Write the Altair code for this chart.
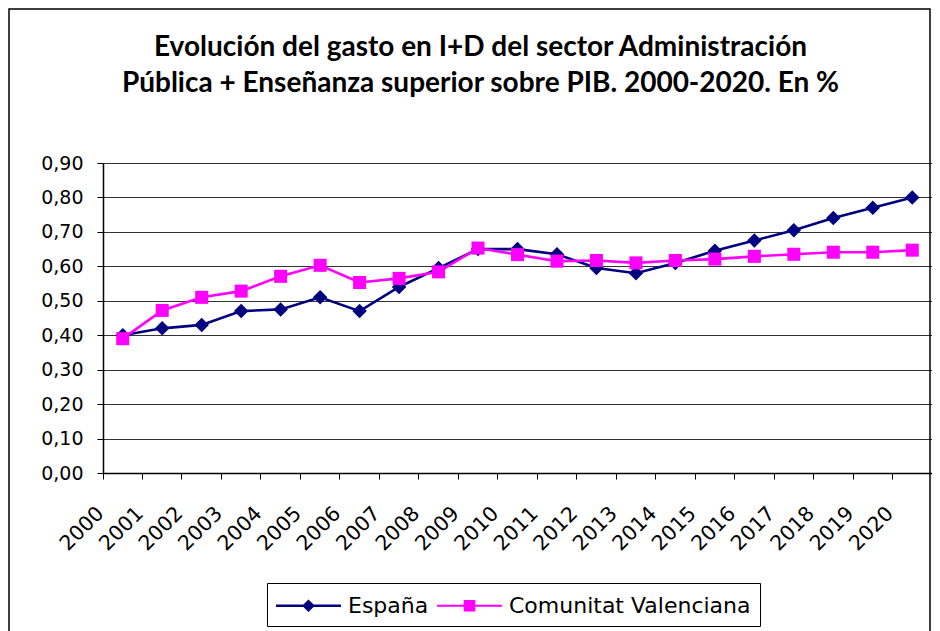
import altair as alt
import pandas as pd

# ---- data ----
years = [str(y) for y in range(2000, 2021)]
espana = [0.40, 0.42, 0.43, 0.47, 0.475, 0.51, 0.47, 0.54, 0.595, 0.65, 0.65,
          0.635, 0.595, 0.58, 0.61, 0.645, 0.675, 0.705, 0.74, 0.77, 0.80]
cv = [0.39, 0.472, 0.51, 0.528, 0.571, 0.603, 0.553, 0.565, 0.584, 0.653, 0.634,
      0.615, 0.617, 0.61, 0.617, 0.621, 0.629, 0.635, 0.641, 0.641, 0.647]
series_names = ["España", "Comunitat Valenciana"]
series_colors = ["#000080", "#FF00FF"]
y_ticks = [0.0, 0.1, 0.2, 0.3, 0.4, 0.5, 0.6, 0.7, 0.8, 0.9]
title_lines = ["Evolución del gasto en I+D del sector Administración",
               "Pública + Enseñanza superior sobre PIB. 2000-2020. En %"]

rows = []
for name, vals in zip(series_names, [espana, cv]):
    for yr, v in zip(years, vals):
        rows.append({"year": yr, "value": v, "series": name})
df = pd.DataFrame(rows)

is_es = "datum.series === 'España'"

x_enc = alt.X(
    "year:O",
    sort=years,
    scale=alt.Scale(type="band", paddingInner=0, paddingOuter=0),
    bandPosition=0.5,
    axis=alt.Axis(
        title=None, bandPosition=0, grid=False,
        ticks=True, tickSize=6, tickColor="black", tickWidth=1,
        domainColor="black", domainWidth=1.5,
        labelAngle=-45, labelAlign="right", labelBaseline="middle",
        labelPadding=31, labelOffset=-22,
        labelFont="DejaVu Sans", labelFontSize=20.5, labelColor="black",
    ),
)
y_enc = alt.Y(
    "value:Q",
    scale=alt.Scale(domain=[0, 0.9], nice=False, zero=True),
    axis=alt.Axis(
        title=None, values=y_ticks,
        labelExpr="replace(format(datum.value, '.2f'), '.', ',')",
        grid=True, gridColor="#333333", gridWidth=1.2,
        ticks=True, tickSize=6, tickColor="black",
        domainColor="black", domainWidth=1.5,
        labelPadding=14, labelFont="DejaVu Sans", labelFontSize=19,
        labelColor="black",
    ),
)

lines = alt.Chart(df).mark_line(strokeWidth=2.6).encode(
    x=x_enc, y=y_enc, detail="series:N",
    color=alt.condition(is_es, alt.value(series_colors[0]), alt.value(series_colors[1])),
)

points = alt.Chart(df).mark_point(filled=True, opacity=1).encode(
    x=x_enc, y=y_enc,
    color=alt.condition(is_es, alt.value(series_colors[0]), alt.value(series_colors[1])),
    shape=alt.condition(is_es, alt.value("diamond"), alt.value("square")),
    size=alt.condition(is_es, alt.value(210), alt.value(170)),
)

# legend symbols: line segment + marker; nominal symbol box 27px, path drawn wider
legend_paths = [
    "M-1,-0.09H3.81V0.09H-1Z M1.405,-0.47L1.875,0L1.405,0.47L0.935,0Z",
    "M-1,-0.08H3.81V0.08H-1Z M0.975,-0.43H1.835V0.43H0.975Z",
]
leg = alt.Legend(
    title=None, orient="none", legendX=164, legendY=420, direction="horizontal",
    padding=9, strokeColor="black", fillColor="white",
    labelFont="DejaVu Sans", labelFontSize=22, labelColor="black", labelLimit=400,
    symbolSize=729, symbolStrokeWidth=0, symbolOpacity=1,
    labelOffset=45, columnPadding=8,
)
legend_layer = alt.Chart(df).transform_filter("false").mark_point(filled=True).encode(
    x=x_enc, y=y_enc,
    color=alt.Color("series:N", scale=alt.Scale(domain=series_names, range=series_colors), legend=leg),
    shape=alt.Shape("series:N", scale=alt.Scale(domain=series_names, range=legend_paths), legend=leg),
)

frame = alt.Chart(alt.Data(values=[{}])).mark_rect(
    fillOpacity=0, stroke="black", strokeWidth=1.5
).encode(
    x=alt.value(-94), x2=alt.value(827), y=alt.value(-154), y2=alt.value(480)
)

chart = alt.layer(frame, lines, points, legend_layer).properties(
    width=829, height=310,
    autosize=alt.AutoSizeParams(type="none"),
    padding={"left": 95, "top": 155, "right": 0, "bottom": 158},
    title=alt.TitleParams(
        text=title_lines, font="Lato", fontSize=28, fontWeight="bold",
        color="black", anchor="middle", dx=-37, offset=-112,
        baseline="alphabetic", lineHeight=36,
    ),
).configure_view(
    fill="#C0C0C0", stroke="#808080", strokeWidth=2
).configure(background="white")

chart.save("out.html", embed_options={"renderer": "svg", "actions": False})
